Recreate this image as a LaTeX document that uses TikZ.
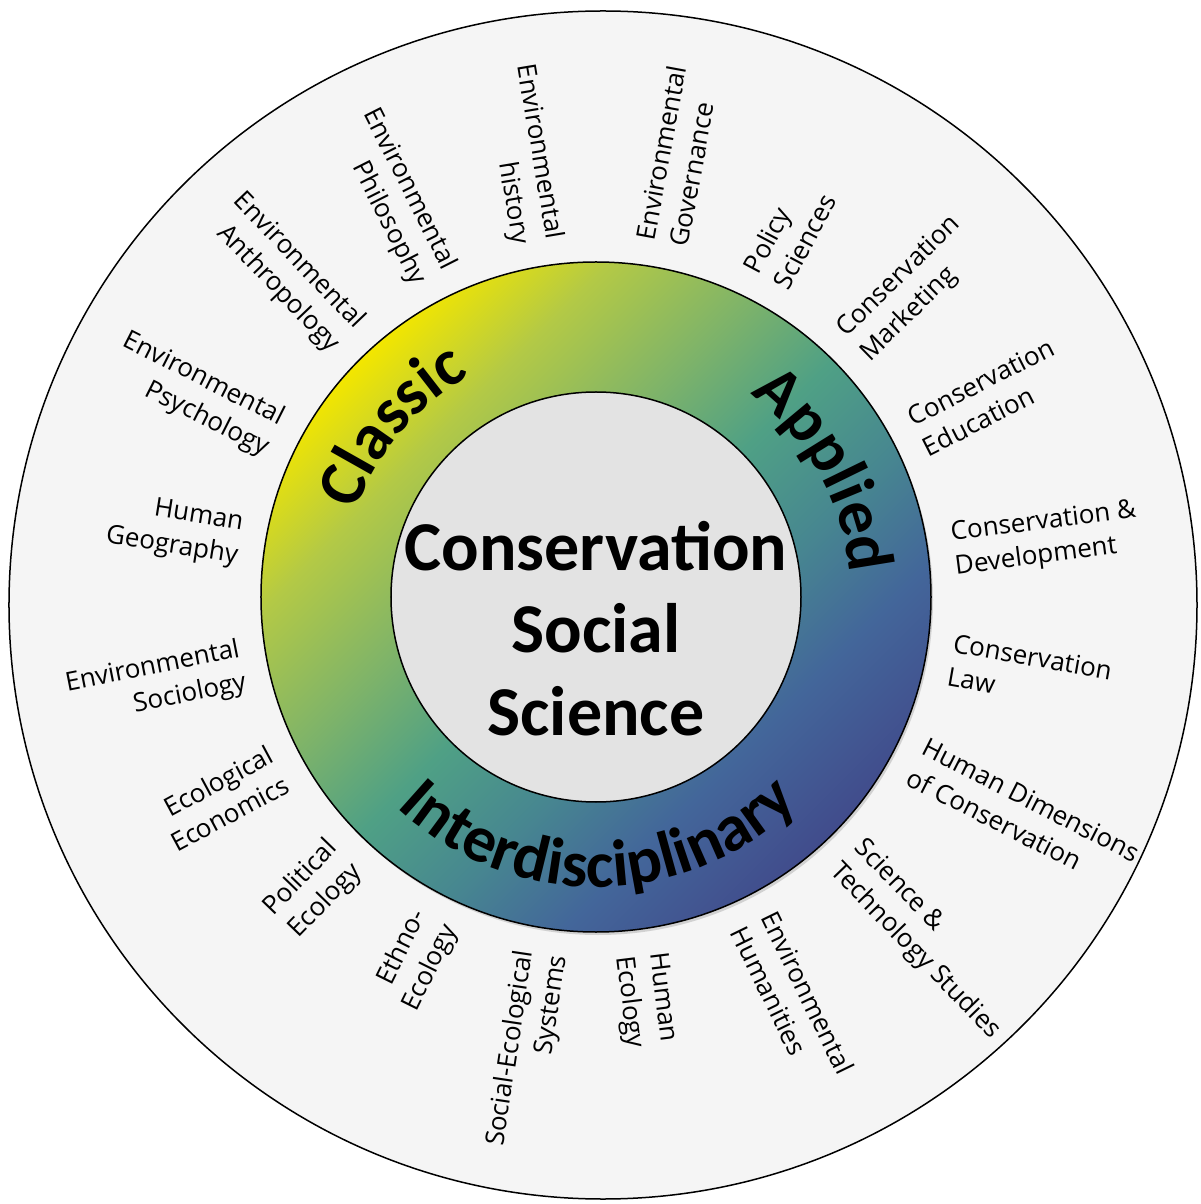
\documentclass[tikz,border=0pt]{standalone}
\usepackage{fontspec}
\setmainfont{Open Sans}
\newfontfamily\headfont{Carlito}
\usetikzlibrary{decorations.text,shadows}

\definecolor{discfill}{HTML}{F5F5F5}
\definecolor{corefill}{HTML}{E3E3E3}
\definecolor{ringA}{HTML}{F2E600}
\definecolor{ringB}{HTML}{B3C946}
\definecolor{ringC}{HTML}{80B468}
\definecolor{ringD}{HTML}{4FA085}
\definecolor{ringE}{HTML}{478790}
\definecolor{ringF}{HTML}{43669A}
\definecolor{ringG}{HTML}{414C8C}
\pgfdeclarehorizontalshading{ringshade}{100bp}{color(0bp)=(ringA); color(25bp)=(ringA); color(33bp)=(ringB); color(42bp)=(ringC); color(50bp)=(ringD); color(58bp)=(ringE); color(66bp)=(ringF); color(75bp)=(ringG); color(100bp)=(ringG)}

\newcommand\ringfont{\headfont\bfseries\fontsize{66}{66}\selectfont}

\begin{document}
\begin{tikzpicture}[x=1pt, y=1pt,
    field/.style={font=\fontsize{26}{34}\selectfont, inner sep=0pt},
    fieldR/.style={field, anchor=west, align=left, rotate=#1},
    fieldL/.style={field, anchor=east, align=right, rotate=#1-180},
    core/.style={font=\headfont\bfseries\fontsize{70}{70}\selectfont, anchor=base, inner sep=0pt}]
    \useasboundingbox (-596,-607) rectangle (605,597);
    \fill[white] (-596,-607) rectangle (605,597);

    % Outer disc
    \draw[line width=1.5pt, fill=discfill] (7,-8) circle (594);

    % Gradient ring
    \shadedraw[shading=ringshade, shading angle=-45, line width=1.5pt,
        drop shadow={shadow xshift=2pt, shadow yshift=-3pt, opacity=0.3}] (0,0) circle (335);

    % Core
    \draw[line width=1.5pt, fill=corefill] (0,0) circle (205);

    % Ring words
    \path[decorate, decoration={text along path, text align=center,
        text={|\ringfont|Classic}}] (175:255) arc[start angle=175, end angle=105, radius=255];
    \path[decorate, decoration={text along path, text align=center,
        text={|\ringfont|Applied}}] (65:255) arc[start angle=65, end angle=-7, radius=255];
    \path[decorate, decoration={text along path, text align=center,
        text={|\ringfont|Interdisciplinary}}] (210:290) arc[start angle=210, end angle=331, radius=290];

    % Centre title
    \node[core] (coreA) at (0,26) {Conservation};
    \node[core] (coreB) at (0,-56) {Social};
    \node[core] (coreC) at (0,-138) {Science};

    % Fields, right half
    \foreach \a/\t [count=\i] in {
        79.5/{Environmental\\Governance},
        62/{Policy\\Sciences},
        44.3/{Conservation\\Marketing},
        27/{Conservation\\Education},
        7.3/{Conservation \&\\Development},
        -10/{Conservation\\Law},
        -27/{Human Dimensions\\of Conservation},
        -46/{Science \&\\Technology Studies},
        -64/{Environmental\\Humanities},
        -83/{Human\\Ecology}}
        \node[fieldR=\a] (fieldR\i) at (\a:360) {\t};

    % Fields, left half
    \foreach \a/\t [count=\i] in {
        261.5/{Social-Ecological\\Systems},
        243.6/{Ethno-\\Ecology},
        226/{Political\\Ecology},
        208.3/{Ecological\\Economics},
        191.2/{Environmental\\Sociology},
        171/{Human\\Geography},
        153.2/{Environmental\\Psychology},
        133.7/{Environmental\\Anthropology},
        116.8/{Environmental\\Philosophy},
        99.5/{Environmental\\history}}
        \node[fieldL=\a] (fieldL\i) at (\a:360) {\t};
\end{tikzpicture}
\end{document}
